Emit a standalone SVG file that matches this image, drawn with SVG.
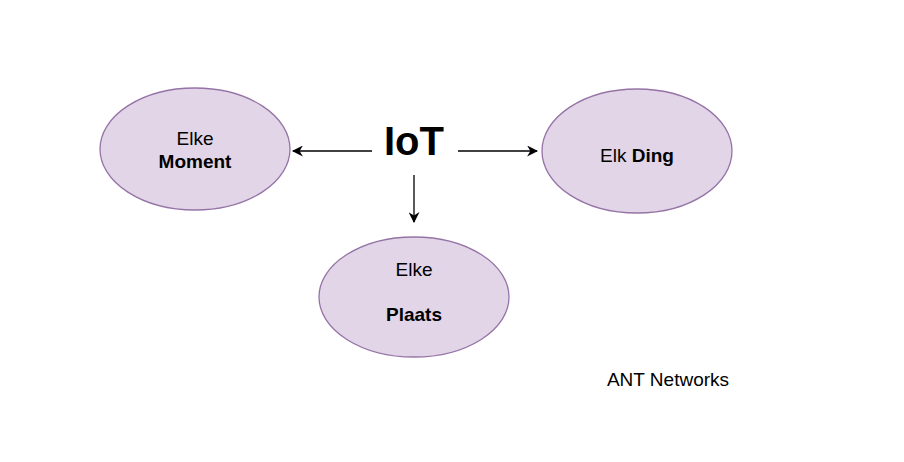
<svg xmlns="http://www.w3.org/2000/svg" width="904" height="462" viewBox="0 0 904 462">
<style>
.n{fill:#e1d5e7;stroke:#9673a6;stroke-width:1.3}
.t{font-family:"Liberation Sans",Arial,sans-serif;font-size:19px;fill:#000;text-anchor:middle}
.b{font-weight:bold}
.c{stroke:#000;stroke-width:1.3;fill:none;marker-end:url(#a)}
</style>
<defs>
<marker id="a" viewBox="0 0 10 10" refX="9" refY="5" markerWidth="11" markerHeight="11" markerUnits="userSpaceOnUse" orient="auto">
<path d="M0,0 L10,5 L0,10 L3,5 Z" fill="#000"/>
</marker>
</defs>
<rect width="904" height="462" fill="#fff"/>
<g id="connectors">
<line class="c" x1="372" y1="151" x2="293" y2="151"/>
<line class="c" x1="458" y1="151" x2="537" y2="151"/>
<line class="c" x1="414" y1="175" x2="414" y2="222"/>
</g>
<g id="iot">
<text x="414" y="155" class="t b" style="font-size:40px">IoT</text>
</g>
<g id="moment">
<ellipse class="n" cx="195" cy="149" rx="95" ry="61"/>
<text x="195" y="145" class="t">Elke</text>
<text x="195" y="168" class="t b">Moment</text>
</g>
<g id="ding">
<ellipse class="n" cx="637" cy="151" rx="95" ry="62"/>
<text x="637" y="162" class="t">Elk <tspan class="b">Ding</tspan></text>
</g>
<g id="plaats">
<ellipse class="n" cx="414" cy="297" rx="95" ry="60"/>
<text x="414" y="276" class="t">Elke</text>
<text x="414" y="321" class="t b">Plaats</text>
</g>
<g id="ant">
<text x="668" y="386" class="t">ANT Networks</text>
</g>
</svg>
